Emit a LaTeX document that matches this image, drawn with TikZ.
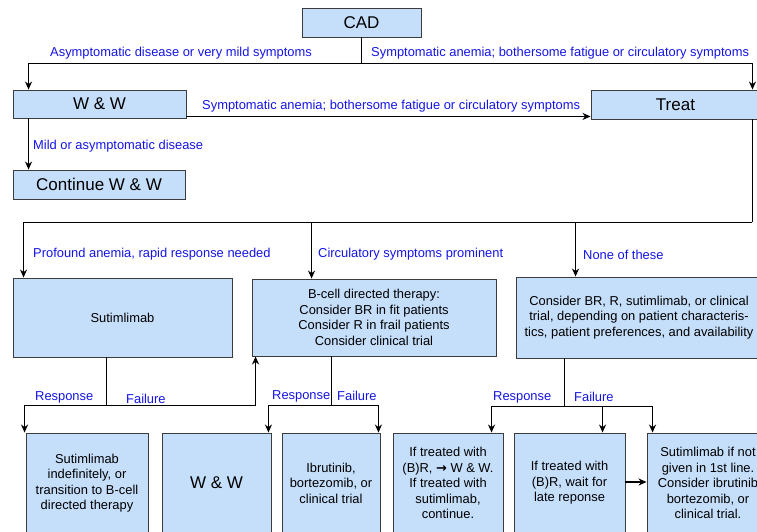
\documentclass[tikz,border=0pt]{standalone}
\usepackage{fontspec}
\setmainfont{Liberation Sans}
\newfontfamily\dejavu{DejaVu Sans}
\usetikzlibrary{arrows.meta,calc}
\definecolor{boxfill}{RGB}{197,222,250}
\definecolor{boxdraw}{RGB}{60,60,60}
\definecolor{lblue}{RGB}{20,20,230}
\tikzset{
  box/.style={draw=boxdraw,fill=boxfill,line width=0.9pt,inner sep=0pt,align=center,font=\fontsize{12.9}{15.5}\selectfont},
  bigbox/.style={box,font=\fontsize{17}{20}\selectfont},
  conn/.style={line width=1.7pt,black},
  arr/.style={conn,-{Stealth[length=8pt,width=7pt,inset=2.5pt]}},
  lbl/.style={text=lblue,anchor=west,inner sep=0pt,yshift=-1.5pt,font=\fontsize{12.9}{14}\selectfont},
}
\begin{document}
\begin{tikzpicture}[x=1pt,y=-1pt]
\useasboundingbox (0,0) rectangle (757,531);
\clip (0,0) rectangle (757,531);
% boxes
\node[bigbox,minimum width=119pt,minimum height=29pt] (cad) at (361.5,22.5) {CAD};
\node[bigbox,minimum width=173pt,minimum height=28pt] (ww) at (99.5,104) {W \& W};
\node[bigbox,minimum width=169pt,minimum height=29pt] (treat) at (675.5,104.5) {Treat};
\node[bigbox,minimum width=172pt,minimum height=29pt] (cont) at (99,184.5) {Continue W \& W};
\node[box,minimum width=219pt,minimum height=79pt] (sut) at (122.5,317.5) {Sutimlimab};
\node[box,minimum width=244pt,minimum height=77pt] (bcell) at (374,317.5) {B-cell directed therapy:\\Consider BR in fit patients\\Consider R in frail patients\\Consider clinical trial};
\node[box,minimum width=246pt,minimum height=81pt] (cons) at (639,317.5) {Consider BR, R, sutimlimab, or clinical\\trial, depending on patient characteris-\\tics, patient preferences, and availability};
\node[box,minimum width=122pt,minimum height=100pt] (b1) at (87,483) {Sutimlimab\\indefinitely, or\\transition to B-cell\\directed therapy};
\node[bigbox,minimum width=109pt,minimum height=100pt] (b2) at (216.5,483) {W \& W};
\node[box,minimum width=98pt,minimum height=100pt] (b3) at (331,483) {Ibrutinib,\\bortezomib, or\\clinical trial};
\node[box,minimum width=110pt,minimum height=100pt] (b4) at (448,483) {If treated with\\(B)R, {\dejavu\bfseries →} W \& W.\\If treated with\\sutimlimab,\\continue.};
\node[box,minimum width=111pt,minimum height=100pt] (b5) at (569.5,483) {If treated with\\(B)R, wait for\\late reponse};
\node[box,minimum width=122pt,minimum height=100pt] (b6) at (708,483) {Sutimlimab if not\\given in 1st line.\\Consider ibrutinib\\bortezomib, or\\clinical trial.};
% junction coordinates
\coordinate (j1) at ($(cad.south)+(0,26)$);
\coordinate (j2) at ($(treat.south east)+(-8,103)$);
\coordinate (j3) at ($(sut.south west)+(94,48)$);
\coordinate (j4) at ($(bcell.south west)+(80,49)$);
\coordinate (j5) at ($(cons.south west)+(49,48)$);
% connectors
\draw[conn] (cad.south) -- (j1);
\draw[arr] (j1) -| ($(ww.north west)+(16,0)$);
\draw[arr] (j1) -| ($(treat.north east)+(-8,0)$);
\draw[arr] ($(ww.south east)+(0,-2)$) -- ($(treat.south west)+(0,-3)$);
\draw[arr] ($(ww.south west)+(16,0)$) -- ($(cont.north west)+(16,0)$);
\draw[conn] ($(treat.south east)+(-8,0)$) -- (j2);
\draw[arr] (j2) -| ($(sut.north west)+(11,0)$);
\draw[arr] ($(j2 -| bcell.north west)+(60,0)$) -- ($(bcell.north west)+(60,0)$);
\draw[arr] ($(j2 -| cons.north west)+(60,0)$) -- ($(cons.north west)+(60,0)$);
% sutimlimab outcomes
\draw[conn] (sut.south west -| j3) -- (j3);
\draw[arr] (j3) -| ($(b1.north west)+(-1,0)$);
\draw[arr] (j3) -| ($(bcell.south west)+(4,0)$);
% B-cell outcomes
\draw[conn] (bcell.south west -| j4) -- (j4);
\draw[arr] (j4) -| ($(b2.north east)+(-3,0)$);
\draw[arr] (j4) -| ($(b3.north east)+(-2,0)$);
% consider outcomes
\draw[conn] (cons.south west -| j5) -- (j5);
\draw[arr] (j5) -| ($(b4.north west)+(99,0)$);
\draw[arr] (j5) -| ($(b5.north west)+(89,0)$);
\draw[arr] (j5) -| ($(b6.north west)+(6,0)$);
\draw[arr] ($(b5.east)+(0,-1)$) -- ($(b6.west)+(0,-1)$);
% labels
\node[lbl] (l1) at (50,52) {Asymptomatic disease or very mild symptoms};
\node[lbl] (l2) at (371,52) {Symptomatic anemia; bothersome fatigue or circulatory symptoms};
\node[lbl] (l3) at (202,105) {Symptomatic anemia; bothersome fatigue or circulatory symptoms};
\node[lbl] (l4) at (33,145) {Mild or asymptomatic disease};
\node[lbl] (l5) at (33,253) {Profound anemia, rapid response needed};
\node[lbl] (l6) at (318,253) {Circulatory symptoms prominent};
\node[lbl] (l7) at (583,253) {None of these};
\node[lbl] (l8) at (35,396) {Response};
\node[lbl] (l9) at (126,397) {Failure};
\node[lbl] (l10) at (272,395) {Response};
\node[lbl] (l11) at (337,394) {Failure};
\node[lbl] (l12) at (493,396) {Response};
\node[lbl] (l13) at (574,395) {Failure};
\end{tikzpicture}
\end{document}
